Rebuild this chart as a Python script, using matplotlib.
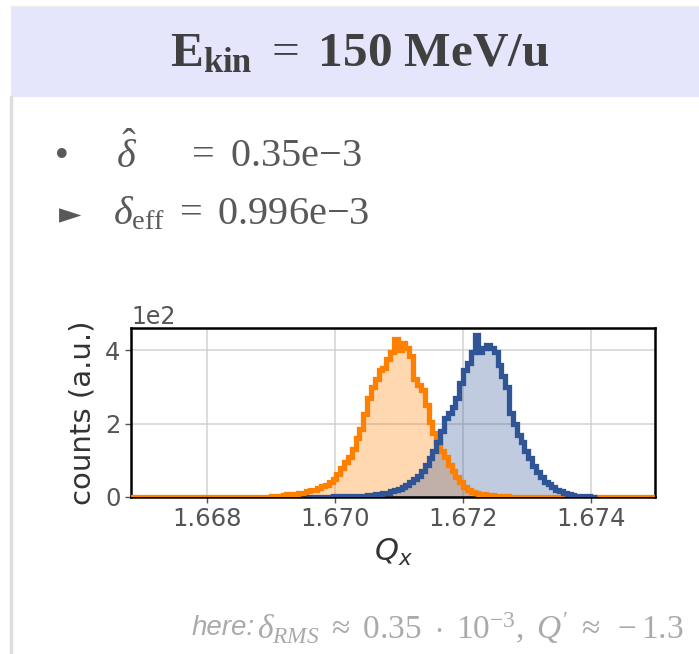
import numpy as np
import matplotlib.pyplot as plt
from matplotlib.patches import Rectangle
from matplotlib.lines import Line2D

plt.rcParams['mathtext.fontset'] = 'custom'
plt.rcParams['mathtext.rm'] = 'Liberation Serif'
plt.rcParams['mathtext.it'] = 'Liberation Serif:italic'
plt.rcParams['mathtext.bf'] = 'Liberation Serif:bold'

# histogram bin grid (Q_x)
bin_start = 1.6690
bin_width = 6e-5

# counts per bin, starting at bin_start
orange_counts = [3, 3, 4, 5, 7, 9, 9, 10, 12, 16, 18, 20, 25, 30, 34, 40, 50, 62, 80, 95,
                 110, 130, 160, 185, 225, 270, 300, 320, 345, 350, 375, 395, 430, 400, 418, 405,
                 385, 320, 305, 290, 250, 205, 175, 150, 125, 110, 88, 70, 55, 40, 28, 20, 14,
                 10, 8, 7, 6, 5, 4, 3, 2, 2, 1, 1]
blue_counts = [0, 0, 0, 0, 0, 0, 0, 0, 0, 1, 1, 1, 1, 1, 1, 1, 2, 2, 2, 2,
               2, 2, 3, 3, 4, 5, 6, 7, 9, 10, 12, 15, 19, 22, 28, 33, 40, 48, 58, 70,
               88, 105, 125, 150, 180, 215, 230, 245, 270, 310, 345, 365, 395, 440, 395, 405,
               415, 405, 395, 360, 330, 300, 230, 200, 170, 150, 125, 105, 85, 68, 55, 42,
               35, 27, 20, 15, 11, 8, 6, 4, 3, 2, 2, 1, 1]

# orange sample reaches the whole axis range (empty tails on the baseline)
pad_left = 60
pad_right = 100
n_orange = pad_left + len(orange_counts) + pad_right
orange_edges = bin_start + bin_width * (np.arange(n_orange + 1) - pad_left)
orange = np.zeros(n_orange)
orange[pad_left:pad_left + len(orange_counts)] = orange_counts

blue_start = bin_start + 9 * bin_width
blue = np.array(blue_counts[9:], dtype=float)
blue_edges = blue_start + bin_width * np.arange(len(blue) + 1)

fig = plt.figure(figsize=(6.99, 6.54), dpi=100)

# slide decoration
fig.patches.append(Rectangle((11/699, 1 - 97/654), 1, 91/654, transform=fig.transFigure,
                             facecolor='#e5e5fb', edgecolor='none', zorder=0))
fig.lines.append(Line2D([11/699, 11/699], [0, 1 - 97/654], transform=fig.transFigure,
                        color='#dddddd', lw=2.5))
fig.lines.append(Line2D([11/699, 1], [1 - 6/654, 1 - 6/654], transform=fig.transFigure,
                        color='#eeeeee', lw=1))

fig.text(0.514, 1 - 52/654, r'$\mathbf{E_{kin}}\ =\ \mathbf{150\ MeV/u}$',
         ha='center', va='center', fontsize=35.5, color='#404040')

grey = '#595959'
fig.text(62/699, 1 - 157/654, '•', ha='center', va='center', fontsize=24, color=grey)
fig.text(116/699, 1 - 155/654, r'$\hat{\delta}$', ha='left', va='center', fontsize=29, color=grey)
fig.text(186/699, 1 - 155/654, r'$=\ \mathrm{0.35e}{-}\mathrm{3}$', ha='left', va='center',
         fontsize=29, color=grey)
fig.text(70/699, 1 - 215/654, '►', ha='center', va='center', fontsize=21, color=grey)
fig.text(113/699, 1 - 213/654, r'$\delta_{\mathrm{eff}}\ =\ \mathrm{0.996e}{-}\mathrm{3}$',
         ha='left', va='center', fontsize=29, color=grey)

foot = fig.text(684/699, 1 - 628/654,
                r"$\delta_{RMS}\ \approx\ \mathrm{0.35}\ \cdot\ \mathrm{10^{-3}},\ Q'\ \approx\ -\mathrm{1.3}$",
                ha='right', va='center', fontsize=24, color='#aaaaaa')
fig.canvas.draw()
bb = foot.get_window_extent()
fig.text(bb.x0 / 699 - 0.004, 1 - 628/654, 'here:', ha='right', va='center', fontsize=20,
         color='#aaaaaa', style='italic', family='Liberation Sans')

ax = fig.add_axes([131/699, 1 - 497/654, (655 - 131)/699, (497 - 328)/654])
ax.stairs(orange, orange_edges, fill=True, color='#ff8000', alpha=0.3, lw=0, zorder=2)
ax.stairs(blue, blue_edges, fill=True, color='#2f5597', alpha=0.3, lw=0, zorder=2)
ax.stairs(orange, orange_edges, color='#ff8000', lw=3.8, zorder=3)
ax.stairs(blue, blue_edges, color='#2f5597', lw=3.8, zorder=4)

ax.set_xlim(1.66681, 1.675)
ax.set_ylim(0, 460)
ax.set_xticks([1.668, 1.670, 1.672, 1.674])
ax.set_xticklabels(['1.668', '1.670', '1.672', '1.674'])
ax.set_yticks([0, 200, 400])
ax.ticklabel_format(axis='y', style='sci', scilimits=(2, 2))
ax.yaxis.get_offset_text().set_fontsize(17)
ax.yaxis.get_offset_text().set_color('#555555')
ax.tick_params(labelsize=17.5, colors='#555555', length=4, width=1)
ax.grid(True, color='#cccccc', lw=1.2, alpha=0.8)
ax.set_axisbelow(True)
for s in ax.spines.values():
    s.set_linewidth(1.8)
    s.set_color('black')

ax.set_xlabel(r'$Q_x$', fontsize=22, color='#333333')
ax.xaxis.label.set_math_fontfamily('dejavusans')
ax.set_ylabel('counts (a.u.)', fontsize=21, color='#333333', labelpad=6)

fig.savefig('out.png', dpi=100)
